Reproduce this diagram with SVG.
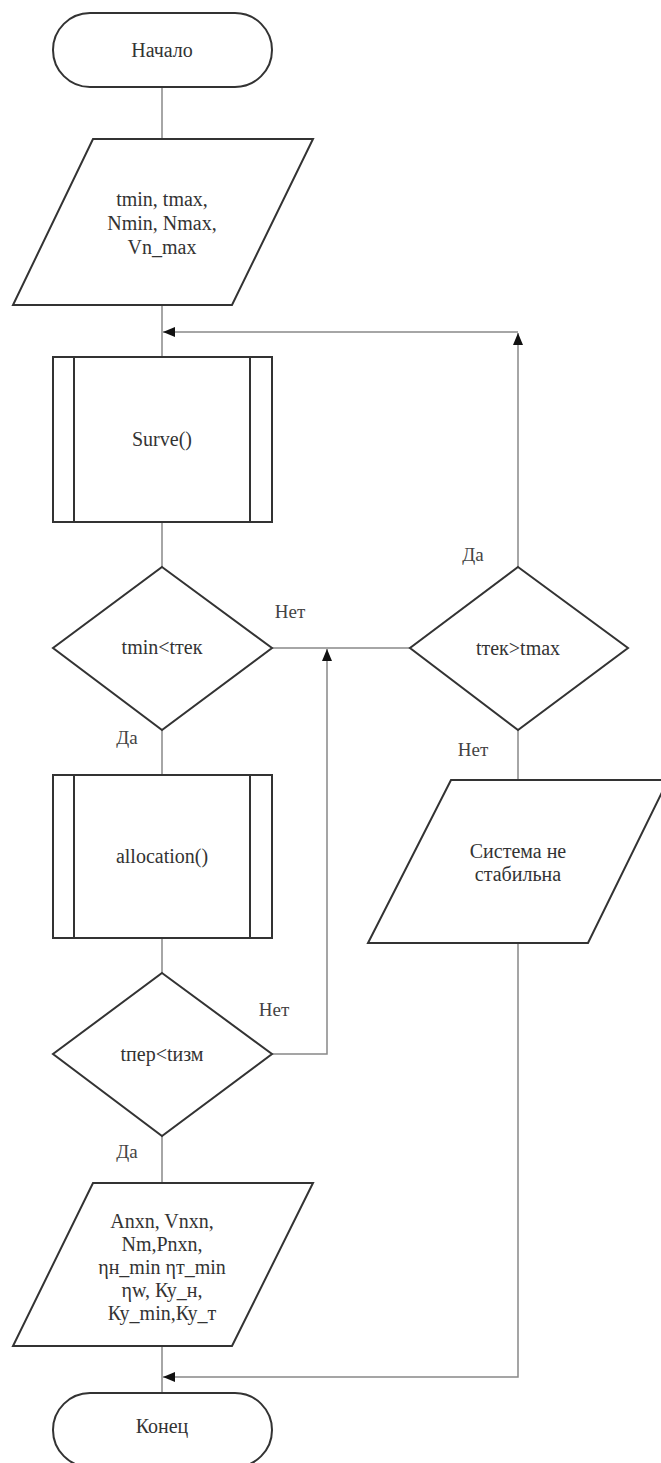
<svg xmlns="http://www.w3.org/2000/svg" width="661" height="1463" viewBox="0 0 661 1463">
<defs>
<marker id="ah" viewBox="0 0 12 10" refX="12" refY="5" markerWidth="12" markerHeight="10" markerUnits="userSpaceOnUse" orient="auto">
<path d="M0,0 L12,5 L0,10 Z" fill="#111"/>
</marker>
<style>
.s{fill:#fff;stroke:#333;stroke-width:2}
.c{fill:none;stroke:#888;stroke-width:1.5}
.t{font-family:'Liberation Serif',Tinos,'Times New Roman','DejaVu Serif',serif;font-size:20px;fill:#333;text-anchor:middle}
.l{font-family:'Liberation Serif',Tinos,'Times New Roman','DejaVu Serif',serif;font-size:19px;fill:#444;text-anchor:middle}
</style>
</defs>
<rect width="661" height="1463" fill="#fff"/>
<g id="connectors">
<line class="c" x1="162" y1="87" x2="162" y2="139"/>
<line class="c" x1="162" y1="305" x2="162" y2="357"/>
<line class="c" x1="518" y1="567" x2="518" y2="333" marker-end="url(#ah)"/>
<line class="c" x1="518" y1="332" x2="163" y2="332" marker-end="url(#ah)"/>
<line class="c" x1="162" y1="522" x2="162" y2="567"/>
<line class="c" x1="272" y1="648" x2="410" y2="648"/>
<line class="c" x1="162" y1="730" x2="162" y2="775"/>
<line class="c" x1="162" y1="938" x2="162" y2="973"/>
<polyline class="c" points="272,1054 327,1054 327,649" marker-end="url(#ah)"/>
<line class="c" x1="518" y1="730" x2="518" y2="780"/>
<line class="c" x1="162" y1="1136" x2="162" y2="1183"/>
<line class="c" x1="162" y1="1346" x2="162" y2="1393"/>
<polyline class="c" points="518,943 518,1377 163,1377" marker-end="url(#ah)"/>
<text class="l" x="290" y="618">Нет</text>
<text class="l" x="127" y="744">Да</text>
<text class="l" x="473" y="561">Да</text>
<text class="l" x="473" y="756">Нет</text>
<text class="l" x="274" y="1016">Нет</text>
<text class="l" x="127" y="1158">Да</text>
</g>
<g id="start">
<rect class="s" x="53" y="13" width="219" height="74" rx="37" ry="37"/>
<text class="t" x="162" y="57">Начало</text>
</g>
<g id="input">
<polygon class="s" points="93,139 313,139 232,305 13,305"/>
<text class="t" x="162" y="206">tmin, tmax,</text>
<text class="t" x="162" y="230">Nmin, Nmax,</text>
<text class="t" x="162" y="254">Vn_max</text>
</g>
<g id="surve">
<rect class="s" x="53" y="357" width="219" height="165"/>
<line class="s" x1="74" y1="357" x2="74" y2="522"/>
<line class="s" x1="250" y1="357" x2="250" y2="522"/>
<text class="t" x="162" y="446">Surve()</text>
</g>
<g id="cond1">
<polygon class="s" points="162,567 272,648 162,730 53,648"/>
<text class="t" x="162" y="654">tmin&lt;tтек</text>
</g>
<g id="cond2">
<polygon class="s" points="518,567 628,648 518,730 410,648"/>
<text class="t" x="518" y="655">tтек&gt;tmax</text>
</g>
<g id="unstable">
<polygon class="s" points="451,780 668,780 588,943 368,943"/>
<text class="t" x="518" y="858">Система не</text>
<text class="t" x="518" y="881">стабильна</text>
</g>
<g id="allocation">
<rect class="s" x="53" y="775" width="219" height="163"/>
<line class="s" x1="74" y1="775" x2="74" y2="938"/>
<line class="s" x1="250" y1="775" x2="250" y2="938"/>
<text class="t" x="162" y="863">allocation()</text>
</g>
<g id="cond3">
<polygon class="s" points="162,973 272,1054 162,1136 53,1054"/>
<text class="t" x="162" y="1061">tпер&lt;tизм</text>
</g>
<g id="output">
<polygon class="s" points="93,1183 313,1183 232,1346 13,1346"/>
<text class="t" x="162" y="1228">Anxn, Vnxn,</text>
<text class="t" x="162" y="1251">Nm,Pnxn,</text>
<text class="t" x="162" y="1274">ηн_min ηт_min</text>
<text class="t" x="162" y="1297">ηw, Ку_н,</text>
<text class="t" x="162" y="1320">Ку_min,Ку_т</text>
</g>
<g id="end">
<rect class="s" x="53" y="1393" width="219" height="74" rx="37" ry="37"/>
<text class="t" x="162" y="1433">Конец</text>
</g>
</svg>
